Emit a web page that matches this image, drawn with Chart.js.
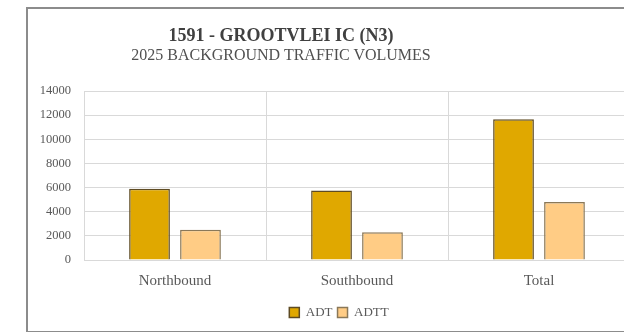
<!DOCTYPE html>
<html>
<head>
<meta charset="utf-8">
<script src="https://cdn.jsdelivr.net/npm/chart.js@4.4.1/dist/chart.umd.min.js"></script>
<style>
    html, body { margin: 0; padding: 0; background: #fff; overflow: hidden; width: 624px; height: 332px; }
    .frame {
        position: absolute; left: 26px; top: 7px;
        width: 622px; height: 322px;
        border: 2px solid #8c8c8c;
        background: #fff;
    }
    .title {
        position: absolute; left: 0; width: 562px; text-align: center;
        font-family: "Liberation Serif", serif; color: #404040;
    }
    #t1 { top: 25px; font-size: 18px; font-weight: bold; }
    #t2 { top: 46px; font-size: 16px; color: #505050; }
    canvas { position: absolute; left: 0; top: 0; }
</style>
</head>
<body>
<div class="frame">
    <canvas id="chart" width="622" height="322"></canvas>
</div>
<div class="title" id="t1">1591 - GROOTVLEI IC (N3)</div>
<div class="title" id="t2">2025 BACKGROUND TRAFFIC VOLUMES</div>
<script>
const categories = ['Northbound', 'Southbound', 'Total'];
const adt = [5900, 5750, 11650];
const adtt = [2500, 2300, 4800];
const yTicks = [0, 2000, 4000, 6000, 8000, 10000, 12000, 14000];

const serif = '"Liberation Serif", serif';

// the legend sits a bit right of the plot centre in the original
const shiftLegend = {
    id: 'shiftLegend',
    afterLayout(chart) {
        chart.legend.left += 6;
        chart.legend.right += 6;
        chart.legend.top -= 1;
        chart.legend.bottom -= 1;
    }
};

const ctx = document.getElementById('chart').getContext('2d');
new Chart(ctx, {
    type: 'bar',
    data: {
        labels: categories,
        datasets: [{
            label: 'ADT',
            data: adt,
            backgroundColor: '#e0a800',
            borderColor: '#5e4b23',
            borderWidth: 1.5,
            categoryPercentage: 0.56,
            barPercentage: 0.8
        }, {
            label: 'ADTT',
            data: adtt,
            backgroundColor: '#ffcc85',
            borderColor: '#8a7858',
            borderWidth: 1.5,
            categoryPercentage: 0.56,
            barPercentage: 0.8
        }]
    },
    options: {
        responsive: false,
        animation: false,
        layout: {
            padding: { top: 82, right: 20, bottom: 1, left: 8 }
        },
        scales: {
            x: {
                grid: { color: '#d9d9d9', offset: true, drawTicks: false },
                border: { color: '#d9d9d9' },
                ticks: {
                    color: '#595959',
                    padding: 12,
                    font: { family: serif, size: 15 }
                }
            },
            y: {
                min: 0,
                max: 14000,
                afterFit: axis => { axis.width = 48; },
                afterBuildTicks: axis => { axis.ticks = yTicks.map(v => ({ value: v })); },
                grid: { color: '#d9d9d9', drawTicks: false },
                border: { display: false },
                ticks: {
                    color: '#595959',
                    padding: 13,
                    font: { family: serif, size: 12.5 },
                    callback: v => String(v)
                }
            }
        },
        plugins: {
            title: { display: false },
            tooltip: { enabled: false },
            legend: {
                position: 'bottom',
                labels: {
                    boxWidth: 10,
                    boxHeight: 10,
                    padding: 5,
                    color: '#595959',
                    font: { family: serif, size: 13 }
                }
            }
        }
    },
    plugins: [shiftLegend]
});
</script>
</body>
</html>
